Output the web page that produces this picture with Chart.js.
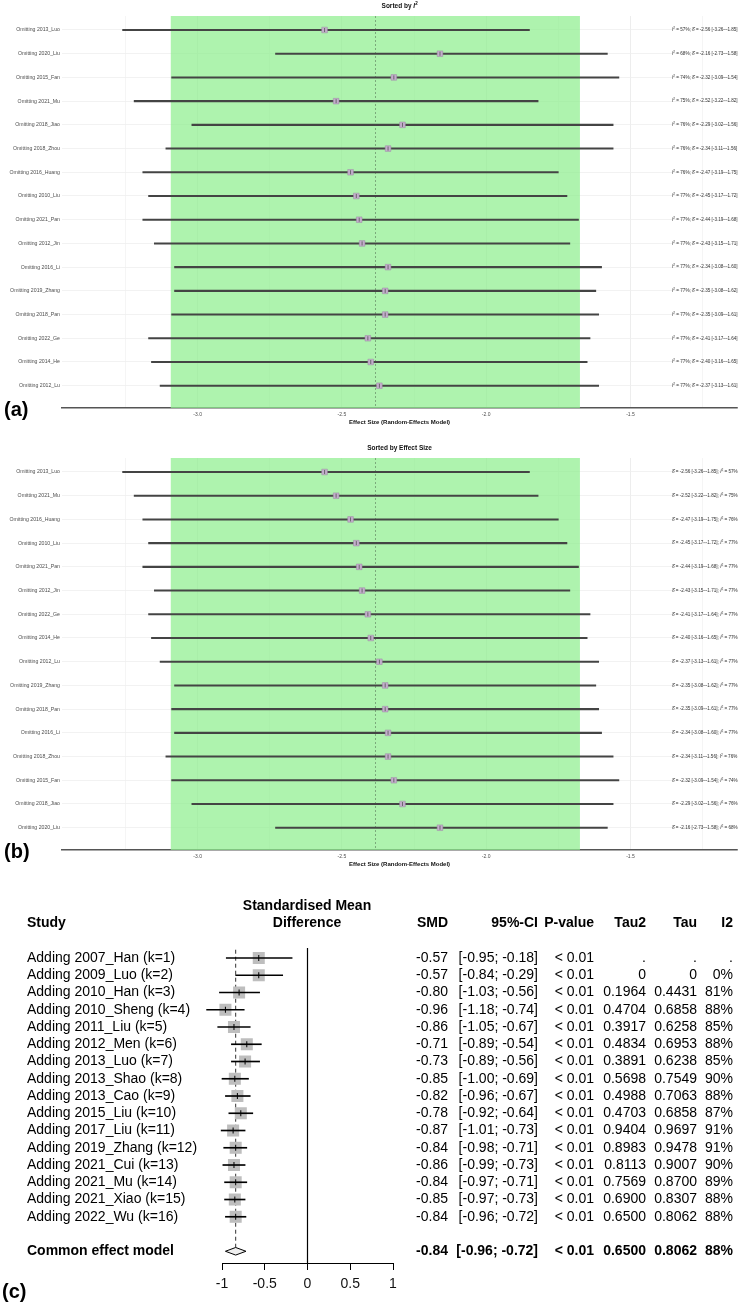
<!DOCTYPE html>
<html>
<head>
<meta charset="utf-8">
<script src="https://cdn.jsdelivr.net/npm/chart.js@4"></script>
<style>
  body { margin: 0; background: #fff; }
  #wrap { position: relative; width: 742px; height: 1305px; background: #fff; }
  canvas { position: absolute; left: 0; }
</style>
</head>
<body>
<div id="wrap">
  <canvas id="chartA" width="742" height="442" style="top:0"></canvas>
  <canvas id="chartB" width="742" height="442" style="top:442px"></canvas>
  <canvas id="chartC" width="742" height="421" style="top:884px"></canvas>
</div>
<script>
// leave-one-out results, in panel (a) order (sorted by I2)
const omitStudies = ['2013_Luo', '2020_Liu', '2015_Fan', '2021_Mu', '2018_Jiao', '2018_Zhou', '2016_Huang', '2010_Liu',
  '2021_Pan', '2012_Jin', '2016_Li', '2019_Zhang', '2018_Pan', '2022_Ge', '2014_He', '2012_Lu'];
const omitEffect = [-2.56, -2.16, -2.32, -2.52, -2.29, -2.34, -2.47, -2.45, -2.44, -2.43, -2.34, -2.35, -2.35, -2.41, -2.40, -2.37];
const omitLower = [-3.26, -2.73, -3.09, -3.22, -3.02, -3.11, -3.19, -3.17, -3.19, -3.15, -3.08, -3.08, -3.09, -3.17, -3.16, -3.13];
const omitUpper = [-1.85, -1.58, -1.54, -1.82, -1.56, -1.56, -1.75, -1.72, -1.68, -1.71, -1.60, -1.62, -1.61, -1.64, -1.65, -1.61];
const omitI2 = [57, 68, 74, 75, 76, 76, 76, 77, 77, 77, 77, 77, 77, 77, 77, 77];
// panel (b) order (sorted by effect size)
const effectOrder = ['2013_Luo', '2021_Mu', '2016_Huang', '2010_Liu', '2021_Pan', '2012_Jin', '2022_Ge', '2014_He',
  '2012_Lu', '2019_Zhang', '2018_Pan', '2016_Li', '2018_Zhou', '2015_Fan', '2018_Jiao', '2020_Liu'];
const pooledEffect = [-2.383];
const shadedBand = [-3.093, -1.675];
const effectTicks = [-3.0, -2.5, -2.0, -1.5];
const gridSteps = [-3.25, -3.0, -2.75, -2.5, -2.25, -2.0, -1.75, -1.5, -1.25];

// cumulative meta-analysis, panel (c)
const cumStudies = ['Adding 2007_Han (k=1)', 'Adding 2009_Luo (k=2)', 'Adding 2010_Han (k=3)', 'Adding 2010_Sheng (k=4)',
  'Adding 2011_Liu (k=5)', 'Adding 2012_Men (k=6)', 'Adding 2013_Luo (k=7)', 'Adding 2013_Shao (k=8)',
  'Adding 2013_Cao (k=9)', 'Adding 2015_Liu (k=10)', 'Adding 2017_Liu (k=11)', 'Adding 2019_Zhang (k=12)',
  'Adding 2021_Cui (k=13)', 'Adding 2021_Mu (k=14)', 'Adding 2021_Xiao (k=15)', 'Adding 2022_Wu (k=16)'];
const cumSmd = [-0.57, -0.57, -0.80, -0.96, -0.86, -0.71, -0.73, -0.85, -0.82, -0.78, -0.87, -0.84, -0.86, -0.84, -0.85, -0.84];
const cumLower = [-0.95, -0.84, -1.03, -1.18, -1.05, -0.89, -0.89, -1.00, -0.96, -0.92, -1.01, -0.98, -0.99, -0.97, -0.97, -0.96];
const cumUpper = [-0.18, -0.29, -0.56, -0.74, -0.67, -0.54, -0.56, -0.69, -0.67, -0.64, -0.73, -0.71, -0.73, -0.71, -0.73, -0.72];
const cumP = ['< 0.01', '< 0.01', '< 0.01', '< 0.01', '< 0.01', '< 0.01', '< 0.01', '< 0.01',
  '< 0.01', '< 0.01', '< 0.01', '< 0.01', '< 0.01', '< 0.01', '< 0.01', '< 0.01'];
const cumTau2 = [null, 0, 0.1964, 0.4704, 0.3917, 0.4834, 0.3891, 0.5698, 0.4988, 0.4703, 0.9404, 0.8983, 0.8113, 0.7569, 0.6900, 0.6500];
const cumTau = [null, 0, 0.4431, 0.6858, 0.6258, 0.6953, 0.6238, 0.7549, 0.7063, 0.6858, 0.9697, 0.9478, 0.9007, 0.8700, 0.8307, 0.8062];
const cumI2 = [null, 0, 81, 88, 85, 88, 85, 90, 88, 87, 91, 91, 90, 89, 88, 88];
const commonLabel = ['Common effect model'];
const commonSmd = [-0.84, -0.96, -0.72]; // estimate, lower, upper
const commonStats = ['< 0.01', 0.6500, 0.8062, 88];
const smdTicks = [-1, -0.5, 0, 0.5, 1];

const FONT = "'Liberation Sans', Arial, sans-serif";
Chart.defaults.font.family = FONT;

const fmt2 = v => v.toFixed(2);
const fmtTau = v => v === null ? '.' : (v === 0 ? '0' : v.toFixed(4));
const fmtI2 = v => v === null ? '.' : v + '%';

// draws a run of text pieces (italic I, superscript 2 ...) one after another
function drawRich(ctx, x, y, parts, size, align) {
    const fonts = parts.map(p => `${p.style || ''} ${p.sup ? size * 0.7 : size}px ${FONT}`);
    let total = 0;
    parts.forEach((p, i) => { ctx.font = fonts[i]; total += ctx.measureText(p.t).width; });
    let cx = align === 'center' ? x - total / 2 : x;
    ctx.textAlign = 'left';
    ctx.textBaseline = 'middle';
    parts.forEach((p, i) => {
        ctx.font = fonts[i];
        ctx.fillText(p.t, cx, p.sup ? y - size * 0.35 : y);
        cx += ctx.measureText(p.t).width;
    });
}

function zeroPadding(ax) {
    ax.paddingLeft = 0; ax.paddingRight = 0; ax.paddingTop = 0; ax.paddingBottom = 0;
}

function omitChart(id, title, order, notes, tag) {
    const rows = order.map(name => omitStudies.indexOf(name));
    const yMin = -0.59, yMax = 15.94;
    const points = rows.map((k, i) => ({ x: omitEffect[k], y: i }));
    const overlay = {
        id: 'overlay',
        beforeDatasetsDraw(chart) {
            const { ctx, chartArea: a, scales: { x } } = chart;
            const x0 = x.getPixelForValue(shadedBand[0]);
            const x1 = x.getPixelForValue(shadedBand[1]);
            ctx.save();
            ctx.fillStyle = 'rgba(144,238,144,0.73)';
            ctx.fillRect(x0, a.top, x1 - x0, a.bottom - a.top);
            ctx.restore();
        },
        afterDraw(chart) {
            const { ctx, chartArea: a, scales: { y } } = chart;
            const cx = (a.left + a.right) / 2;
            ctx.save();
            ctx.fillStyle = '#111';
            drawRich(ctx, cx, 6, title, 6.5, 'center');
            drawRich(ctx, cx, a.bottom + 14, [{ t: 'Effect Size (Random-Effects Model)', style: 'bold' }], 6, 'center');
            ctx.fillStyle = '#333';
            rows.forEach((k, i) => drawRich(ctx, 672, y.getPixelForValue(i), notes(k), 4.6, 'left'));
            ctx.fillStyle = '#000';
            drawRich(ctx, 4, 410, [{ t: tag, style: 'bold' }], 20, 'left');
            ctx.restore();
        }
    };
    return new Chart(document.getElementById(id), {
        type: 'scatter',
        data: {
            datasets: [
                { type: 'scatter', data: points, pointStyle: 'line', pointRotation: 90, pointRadius: 2,
                  pointBorderColor: '#555', pointBorderWidth: 0.8, order: 0 },
                { type: 'scatter', data: points, pointStyle: 'rect', pointRadius: 4,
                  pointBackgroundColor: '#c3adcc', pointBorderColor: '#9c8aa3', pointBorderWidth: 0.5, order: 1 },
                { type: 'bar', indexAxis: 'y', data: rows.map((k, i) => ({ x: [omitLower[k], omitUpper[k]], y: i })),
                  barThickness: 1.4, backgroundColor: '#444', borderWidth: 0, order: 2 },
                { type: 'line', data: [{ x: pooledEffect[0], y: yMin }, { x: pooledEffect[0], y: yMax }],
                  borderColor: '#5a7a5a', borderWidth: 0.6, borderDash: [2, 2], pointRadius: 0, order: 3 }
            ]
        },
        options: {
            responsive: false, animation: false, events: [],
            layout: { padding: { top: 16, left: 0, right: 0, bottom: 0 } },
            plugins: { legend: { display: false }, tooltip: { enabled: false } },
            scales: {
                x: {
                    type: 'linear', min: -3.47, max: -1.13, offset: false,
                    afterBuildTicks: ax => { ax.ticks = gridSteps.map(v => ({ value: v })); },
                    afterFit: ax => { ax.height = 34; zeroPadding(ax); },
                    grid: { offset: false, color: '#ebebeb', lineWidth: c => effectTicks.includes(c.tick && c.tick.value) ? 0.9 : 0.5, drawTicks: false },
                    border: { display: true, color: '#555', width: 1.5 },
                    ticks: { autoSkip: false, maxRotation: 0, padding: 4, font: { size: 5 }, color: '#4d4d4d',
                             callback: v => effectTicks.includes(v) ? v.toFixed(1) : '' }
                },
                y: {
                    type: 'linear', reverse: true, min: yMin, max: yMax, offset: false,
                    afterBuildTicks: ax => { ax.ticks = rows.map((k, i) => ({ value: i })); },
                    afterFit: ax => { ax.width = 62; zeroPadding(ax); },
                    grid: { offset: false, color: '#efefef', lineWidth: 0.8, drawTicks: false },
                    border: { display: false },
                    ticks: { autoSkip: false, padding: 2, font: { size: 5.2 }, color: '#4d4d4d',
                             callback: v => 'Omitting ' + omitStudies[rows[v]] }
                }
            }
        },
        plugins: [overlay]
    });
}

const ciText = k => `[${fmt2(omitLower[k])}\u2013${fmt2(omitUpper[k])}]`;

omitChart('chartA',
    [{ t: 'Sorted by ', style: 'bold' }, { t: 'I', style: 'italic bold' }, { t: '2', style: 'bold', sup: true }],
    omitStudies,
    k => [{ t: 'I', style: 'italic' }, { t: '2', sup: true },
          { t: ` = ${omitI2[k]}%; \u03b4\u0302 = ${fmt2(omitEffect[k])} ${ciText(k)}` }],
    '(a)');

omitChart('chartB',
    [{ t: 'Sorted by Effect Size', style: 'bold' }],
    effectOrder,
    k => [{ t: `\u03b4\u0302 = ${fmt2(omitEffect[k])} ${ciText(k)}; ` }, { t: 'I', style: 'italic' }, { t: '2', sup: true },
          { t: ` = ${omitI2[k]}%` }],
    '(b)');

// panel (c): cumulative forest plot with its table
(function () {
    const yMin = -0.58, yMax = 17.68, sumRow = 17, half = 0.22;
    const points = cumSmd.map((v, i) => ({ x: v, y: i }));
    const cols = [448, 538, 594, 646, 697, 733];
    const table = {
        id: 'table',
        afterDraw(chart) {
            const { ctx, scales: { y } } = chart;
            ctx.save();
            ctx.fillStyle = '#000';
            ctx.textBaseline = 'middle';
            ctx.font = `bold 14px ${FONT}`;
            ctx.textAlign = 'left';
            ctx.fillText('Study', 27, 39);
            ctx.textAlign = 'center';
            ctx.fillText('Standardised Mean', 307, 22);
            ctx.fillText('Difference', 307, 39);
            ctx.textAlign = 'right';
            ['SMD', '95%-CI', 'P-value', 'Tau2', 'Tau', 'I2'].forEach((h, j) => ctx.fillText(h, cols[j], 39));

            const row = (cells, label, py) => {
                ctx.textAlign = 'left';
                ctx.fillText(label, 27, py);
                ctx.textAlign = 'right';
                cells.forEach((c, j) => ctx.fillText(c, cols[j], py));
            };
            ctx.font = `14px ${FONT}`;
            cumStudies.forEach((s, i) => {
                row([fmt2(cumSmd[i]), `[${fmt2(cumLower[i])}; ${fmt2(cumUpper[i])}]`, cumP[i],
                     fmtTau(cumTau2[i]), fmtTau(cumTau[i]), fmtI2(cumI2[i])], s, y.getPixelForValue(i));
            });
            ctx.font = `bold 14px ${FONT}`;
            row([fmt2(commonSmd[0]), `[${fmt2(commonSmd[1])}; ${fmt2(commonSmd[2])}]`, commonStats[0],
                 fmtTau(commonStats[1]), fmtTau(commonStats[2]), fmtI2(commonStats[3])], commonLabel[0], y.getPixelForValue(sumRow));

            ctx.font = `bold 20px ${FONT}`;
            ctx.textAlign = 'left';
            ctx.fillText('(c)', 2, 408);
            ctx.restore();
        }
    };
    new Chart(document.getElementById('chartC'), {
        type: 'scatter',
        data: {
            datasets: [
                { type: 'scatter', data: points, pointStyle: 'line', pointRotation: 90, pointRadius: 3,
                  pointBorderColor: '#000', pointBorderWidth: 1, clip: false, order: 0 },
                { type: 'bar', indexAxis: 'y', data: cumSmd.map((v, i) => ({ x: [cumLower[i], cumUpper[i]], y: i })),
                  barThickness: 1, backgroundColor: '#000', borderWidth: 0, clip: false, order: 1 },
                { type: 'scatter', data: points, pointStyle: 'rect', pointRadius: 8.5,
                  pointBackgroundColor: '#bebebe', pointBorderWidth: 0, clip: false, order: 2 },
                { type: 'line', data: [
                    { x: commonSmd[1], y: sumRow }, { x: commonSmd[0], y: sumRow - half },
                    { x: commonSmd[2], y: sumRow }, { x: commonSmd[0], y: sumRow + half }, { x: commonSmd[1], y: sumRow }],
                  fill: 'shape', backgroundColor: '#eeeeee', borderColor: '#000', borderWidth: 1, pointRadius: 0,
                  clip: false, order: 3 },
                { type: 'line', data: [{ x: commonSmd[0], y: yMin + 0.1 }, { x: commonSmd[0], y: sumRow - half }],
                  borderColor: '#333', borderWidth: 1, borderDash: [4, 3], pointRadius: 0, order: 4 },
                { type: 'line', data: [{ x: 0, y: yMin }, { x: 0, y: yMax }],
                  borderColor: '#000', borderWidth: 1.2, pointRadius: 0, order: 5 }
            ]
        },
        options: {
            responsive: false, animation: false, events: [],
            layout: { padding: { top: 64, left: 222, right: 349, bottom: 0 } },
            plugins: { legend: { display: false }, tooltip: { enabled: false } },
            scales: {
                x: {
                    type: 'linear', min: smdTicks[0], max: smdTicks[smdTicks.length - 1], offset: false,
                    afterBuildTicks: ax => { ax.ticks = smdTicks.map(v => ({ value: v })); },
                    afterFit: ax => { ax.height = 42; zeroPadding(ax); },
                    grid: { offset: false, drawOnChartArea: false, drawTicks: true, tickLength: 7, color: '#000', lineWidth: 1 },
                    border: { display: true, color: '#000', width: 1 },
                    ticks: { autoSkip: false, maxRotation: 0, padding: 6, font: { size: 14 }, color: '#111',
                             callback: v => String(v) }
                },
                y: { type: 'linear', display: false, reverse: true, min: yMin, max: yMax, offset: false,
                     grid: { offset: false } }
            }
        },
        plugins: [table]
    });
})();
</script>
</body>
</html>
